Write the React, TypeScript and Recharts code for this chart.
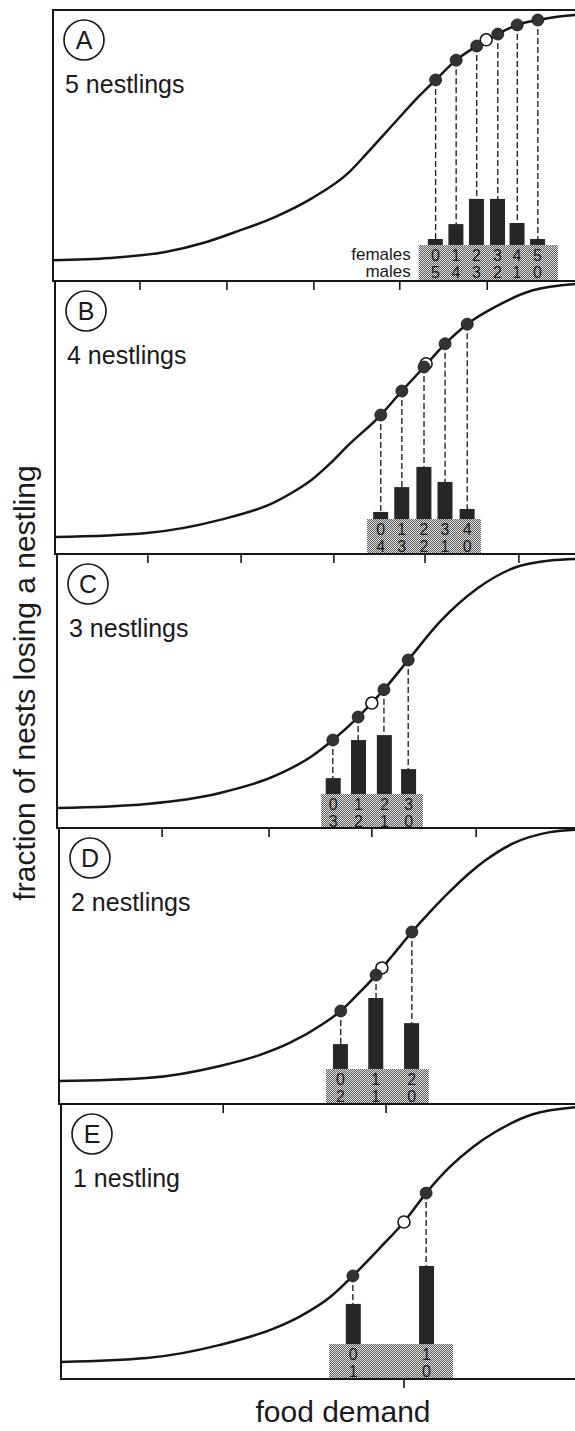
import React from 'react';
import {
  ComposedChart,
  Line,
  Bar,
  Scatter,
  XAxis,
  YAxis,
  ReferenceArea,
  ReferenceLine,
  LabelList,
} from 'recharts';

const FONT = '"Liberation Sans", Arial, Helvetica, sans-serif';
const INK = '#161616';

// ---------------- data (food demand units on x, fraction 0..1 on y) ----------------
const panelLetters = ['A', 'B', 'C', 'D', 'E'];
const panelTitles = ['5 nestlings', '4 nestlings', '3 nestlings', '2 nestlings', '1 nestling'];
const xAxisTitle = 'food demand';
const yAxisTitle = 'fraction of nests losing a nestling';
const sexRowLabels = ['females', 'males'];

// Panel A – 5 nestlings
const curveA: [number, number][] = [
  [0, 0.077], [10.8, 0.085], [21.3, 0.107], [28.8, 0.142], [35.1, 0.184], [42.1, 0.236],
  [49.1, 0.305], [56.1, 0.4], [59.5, 0.47], [63.0, 0.545], [66.5, 0.62], [69.5, 0.683],
  [72.6, 0.742], [76.5, 0.815], [80.4, 0.867], [84.4, 0.911], [88.1, 0.945], [92.0, 0.963],
  [99.0, 0.982], [100, 0.983],
];
const dotXA = [72.6, 76.5, 80.4, 84.4, 88.1, 92.0];
const dotYA = [0.742, 0.815, 0.867, 0.911, 0.945, 0.963];
const meanA: [number, number] = [82.2, 0.89];
const barTopA = [0.155, 0.21, 0.303, 0.303, 0.214, 0.155];
const femalesA = [0, 1, 2, 3, 4, 5];
const malesA = [5, 4, 3, 2, 1, 0];
const stippleA: [number, number, number] = [69.4, 95.8, 0.133];
const ticksA: number[] = [];

// Panel B – 4 nestlings
const curveB: [number, number][] = [
  [0.4, 0.062], [17.8, 0.077], [31.7, 0.125], [42.1, 0.19], [45.5, 0.226], [49.1, 0.272],
  [52.5, 0.33], [56.0, 0.398], [62.2, 0.509], [66.2, 0.597], [70.4, 0.685], [74.4, 0.77],
  [78.6, 0.842], [83.9, 0.905], [90.9, 0.965], [100, 0.99],
];
const dotXB = [62.2, 66.2, 70.4, 74.4, 78.6];
const dotYB = [0.509, 0.597, 0.685, 0.77, 0.842];
const meanB: [number, number] = [70.8, 0.697];
const barTopB = [0.154, 0.245, 0.319, 0.264, 0.165];
const femalesB = [0, 1, 2, 3, 4];
const malesB = [4, 3, 2, 1, 0];
const stippleB: [number, number, number] = [59.6, 81.2, 0.128];
const ticksB = [16.5, 33.0, 49.5, 65.8, 82.4];

// Panel C – 3 nestlings
const curveC: [number, number][] = [
  [0.8, 0.073], [17.8, 0.088], [31.7, 0.128], [42.1, 0.19], [49.1, 0.262], [53.1, 0.321],
  [57.9, 0.405], [62.8, 0.505], [67.4, 0.613], [73.4, 0.752], [80.5, 0.874], [87.3, 0.948],
  [94.3, 0.976], [100, 0.982],
];
const dotXC = [53.1, 57.9, 62.8, 67.4];
const dotYC = [0.321, 0.405, 0.505, 0.613];
const meanC: [number, number] = [60.5, 0.456];
const barTopC = [0.182, 0.321, 0.339, 0.215];
const femalesC = [0, 1, 2, 3];
const malesC = [3, 2, 1, 0];
const stippleC: [number, number, number] = [50.9, 70.2, 0.124];
const ticksC = [18.0, 35.7, 53.3, 70.6, 88.4];

// Panel D – 2 nestlings
const curveD: [number, number][] = [
  [1.2, 0.083], [17.8, 0.094], [31.7, 0.138], [39.3, 0.178], [45.0, 0.222], [51.2, 0.29],
  [54.6, 0.337], [57.7, 0.395], [61.3, 0.467], [64.5, 0.54], [68.1, 0.623], [71.5, 0.695],
  [75.3, 0.77], [79.1, 0.838], [82.0, 0.882], [87.3, 0.944], [94.3, 0.985], [100, 0.995],
];
const dotXD = [54.6, 61.3, 68.1];
const dotYD = [0.337, 0.467, 0.623];
const meanD: [number, number] = [62.4, 0.493];
const barTopD = [0.217, 0.384, 0.293];
const femalesD = [0, 1, 2];
const malesD = [2, 1, 0];
const stippleD: [number, number, number] = [51.8, 71.3, 0.127];
const ticksD = [20.7, 41.0, 60.5, 80.3];

// Panel E – 1 nestling
const curveE: [number, number][] = [
  [1.6, 0.062], [17.8, 0.076], [31.7, 0.124], [42.1, 0.185], [46.9, 0.228], [52.6, 0.298],
  [56.9, 0.375], [62.0, 0.476], [66.6, 0.571], [70.8, 0.676], [75.3, 0.771], [79.7, 0.844],
  [83.9, 0.898], [90.9, 0.962], [100, 0.99],
];
const dotXE = [56.9, 70.8];
const dotYE = [0.375, 0.676];
const meanE: [number, number] = [66.6, 0.571];
const barTopE = [0.273, 0.411];
const femalesE = [0, 1];
const malesE = [1, 0];
const stippleE: [number, number, number] = [52.4, 75.9, 0.127];
const ticksE = [32.3, 63.2];
const bottomTicksE = [66.6];

type Spec = {
  curve: [number, number][];
  dotX: number[];
  dotY: number[];
  mean: [number, number];
  barTop: number[];
  females: number[];
  males: number[];
  stipple: [number, number, number];
  ticks: number[];
  bottomTicks: number[];
};

const SPECS: Spec[] = [
  { curve: curveA, dotX: dotXA, dotY: dotYA, mean: meanA, barTop: barTopA, females: femalesA, males: malesA, stipple: stippleA, ticks: ticksA, bottomTicks: [] },
  { curve: curveB, dotX: dotXB, dotY: dotYB, mean: meanB, barTop: barTopB, females: femalesB, males: malesB, stipple: stippleB, ticks: ticksB, bottomTicks: [] },
  { curve: curveC, dotX: dotXC, dotY: dotYC, mean: meanC, barTop: barTopC, females: femalesC, males: malesC, stipple: stippleC, ticks: ticksC, bottomTicks: [] },
  { curve: curveD, dotX: dotXD, dotY: dotYD, mean: meanD, barTop: barTopD, females: femalesD, males: malesD, stipple: stippleD, ticks: ticksD, bottomTicks: [] },
  { curve: curveE, dotX: dotXE, dotY: dotYE, mean: meanE, barTop: barTopE, females: femalesE, males: malesE, stipple: stippleE, ticks: ticksE, bottomTicks: bottomTicksE },
];

// ---------------- layout (pixels) ----------------
const PAGE_W = 575;
const PAGE_H = 1431;
const CHART_W = 580;
const X_END = 100;
const PX_PER_UNIT = 5.27;
const LEFT0 = 53;
const LAYOUT = [
  { top: 10, bottom: 281, left: 53 },
  { top: 281, bottom: 554, left: 55 },
  { top: 554, bottom: 828, left: 57 },
  { top: 828, bottom: 1104, left: 59 },
  { top: 1104, bottom: 1379, left: 61 },
];
const PAD = 5;
const BOTTOM_SPACE = 52;
const TICK_PX = 9;
const BAR_W = 15;

function Panel({ spec, layout, last }: { spec: Spec; layout: { top: number; bottom: number; left: number }; last: boolean }) {
  const plotH = layout.bottom - layout.top;
  const height = PAD + plotH + (last ? BOTTOM_SPACE : PAD);
  const xStart = (layout.left - LEFT0) / PX_PER_UNIT;
  const tickLen = TICK_PX / plotH;
  const bars = spec.dotX.map((x, i) => ({
    x,
    range: [spec.stipple[2], spec.barTop[i]],
    f: spec.females[i],
    m: spec.males[i],
  }));
  const curve = spec.curve.map(([x, y]) => ({ x, y }));
  const dots = spec.dotX.map((x, i) => ({ x, y: spec.dotY[i] }));
  const mean = [{ x: spec.mean[0], y: spec.mean[1] }];

  const renderBar = (p: any) => {
    const cx = Number(p.x) + Number(p.width) / 2;
    const top = Math.min(Number(p.y), Number(p.y) + Number(p.height));
    const h = Math.abs(Number(p.height));
    return <rect x={cx - BAR_W / 2} y={top} width={BAR_W} height={h} fill="#262626" />;
  };

  const renderDigits = (p: any) => {
    const { x, y, width, height: h, index } = p;
    if (x == null || index == null) return null;
    const cx = Number(x) + Number(width) / 2;
    const base = Math.max(Number(y), Number(y) + Number(h));
    const row = bars[index];
    return (
      <g fontFamily={FONT} fontSize={16} fill="#1a1a1a" textAnchor="middle">
        <text x={cx} y={base + 16}>{row.f}</text>
        <text x={cx} y={base + 33}>{row.m}</text>
      </g>
    );
  };

  return (
    <div style={{ position: 'absolute', left: 0, top: layout.top - PAD }}>
      <ComposedChart
        width={CHART_W}
        height={height}
        data={bars}
        margin={{ top: PAD, right: 0, bottom: last ? BOTTOM_SPACE : PAD, left: layout.left }}
      >
        <XAxis type="number" dataKey="x" domain={[xStart, X_END]} allowDataOverflow hide />
        <YAxis type="number" domain={[0, 1]} allowDataOverflow hide />
        <ReferenceArea
          x1={spec.stipple[0]}
          x2={spec.stipple[1]}
          y1={0}
          y2={spec.stipple[2]}
          fill="url(#stipple)"
          fillOpacity={1}
          stroke="none"
        />
        <Bar dataKey="range" barSize={BAR_W} shape={renderBar} isAnimationActive={false}>
          <LabelList dataKey="f" content={renderDigits} />
        </Bar>
        {spec.dotX.map((x, i) => (
          <ReferenceLine
            key={`d${i}`}
            segment={[{ x, y: spec.dotY[i] }, { x, y: spec.barTop[i] }]}
            stroke={INK}
            strokeWidth={1.3}
            strokeDasharray="6 3"
          />
        ))}
        {spec.ticks.map((t, i) => (
          <ReferenceLine
            key={`t${i}`}
            segment={[{ x: t, y: 1 }, { x: t, y: 1 - tickLen }]}
            stroke={INK}
            strokeWidth={1.6}
            ifOverflow="visible"
          />
        ))}
        {spec.bottomTicks.map((t, i) => (
          <ReferenceLine
            key={`b${i}`}
            segment={[{ x: t, y: 0 }, { x: t, y: -tickLen }]}
            stroke={INK}
            strokeWidth={1.6}
            ifOverflow="visible"
          />
        ))}
        <Line
          data={curve}
          dataKey="y"
          type="monotone"
          stroke={INK}
          strokeWidth={2.5}
          dot={false}
          activeDot={false}
          isAnimationActive={false}
        />
        <Scatter
          data={mean}
          dataKey="y"
          isAnimationActive={false}
          shape={(p: any) => <circle cx={p.cx} cy={p.cy} r={6} fill="#fff" stroke={INK} strokeWidth={1.6} />}
        />
        <Scatter
          data={dots}
          dataKey="y"
          isAnimationActive={false}
          shape={(p: any) => <circle cx={p.cx} cy={p.cy} r={6} fill="#333" stroke={INK} strokeWidth={0.8} />}
        />
        <ReferenceArea
          x1={xStart}
          x2={X_END}
          y1={0}
          y2={1}
          fill="none"
          fillOpacity={0}
          stroke={INK}
          strokeWidth={2}
        />
      </ComposedChart>
    </div>
  );
}

function Overlay() {
  const a = LAYOUT[0];
  const sA = SPECS[0].stipple;
  const stipLeftPx = LEFT0 + sA[0] * PX_PER_UNIT;
  const stipTopPx = a.bottom - sA[2] * (a.bottom - a.top);
  return (
    <svg
      width={PAGE_W}
      height={PAGE_H}
      style={{ position: 'absolute', left: 0, top: 0, pointerEvents: 'none' }}
      fontFamily={FONT}
    >
      {LAYOUT.map((l, i) => (
        <g key={i} fill="#1a1a1a">
          <circle cx={l.left + 31} cy={l.top + 30} r={20} fill="none" stroke={INK} strokeWidth={1.6} />
          <text x={l.left + 31} y={l.top + 39} fontSize={25} textAnchor="middle">{panelLetters[i]}</text>
          <text x={l.left + 12} y={l.top + 83} fontSize={25}>{panelTitles[i]}</text>
        </g>
      ))}
      <g fill="#1a1a1a" fontSize={17} textAnchor="end">
        <text x={stipLeftPx - 8} y={stipTopPx + 15}>{sexRowLabels[0]}</text>
        <text x={stipLeftPx - 8} y={stipTopPx + 32}>{sexRowLabels[1]}</text>
      </g>
      <text
        x={35}
        y={683}
        fontSize={30}
        textAnchor="middle"
        fill="#1a1a1a"
        transform="rotate(-90 35 683)"
      >
        {yAxisTitle}
      </text>
      <text x={343} y={1422} fontSize={30} textAnchor="middle" fill="#1a1a1a">
        {xAxisTitle}
      </text>
    </svg>
  );
}

export default function App() {
  return (
    <div
      style={{
        position: 'absolute',
        left: 0,
        top: 0,
        width: PAGE_W,
        height: PAGE_H,
        overflow: 'hidden',
        background: '#fff',
        fontFamily: FONT,
      }}
    >
      <svg width={0} height={0} style={{ position: 'absolute' }}>
        <defs>
          <pattern id="stipple" width={2} height={2} patternUnits="userSpaceOnUse">
            <rect width={2} height={2} fill="#e4e4e4" />
            <rect width={1} height={1} fill="#5a5a5a" />
            <rect x={1} y={1} width={1} height={1} fill="#5a5a5a" />
          </pattern>
        </defs>
      </svg>
      {SPECS.map((s, i) => (
        <Panel key={i} spec={s} layout={LAYOUT[i]} last={i === SPECS.length - 1} />
      ))}
      <Overlay />
    </div>
  );
}
